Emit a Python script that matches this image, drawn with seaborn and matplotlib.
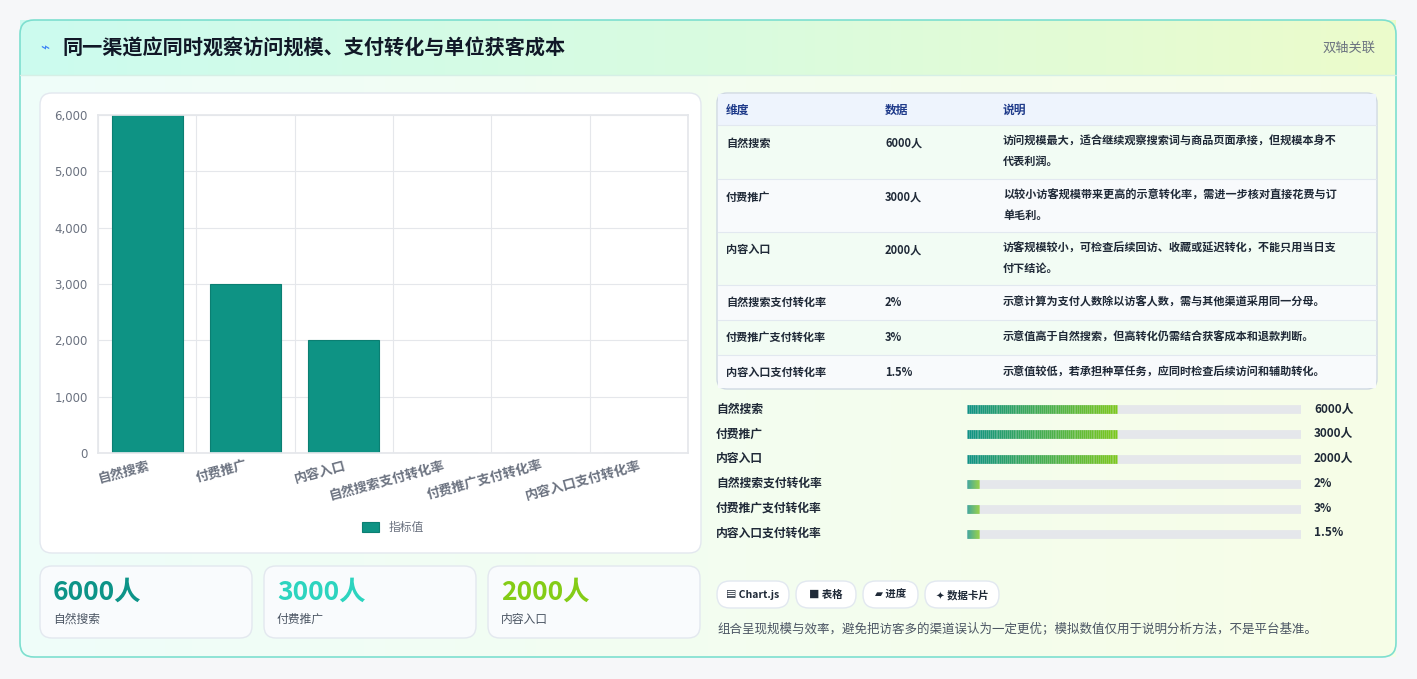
import numpy as np
import pandas as pd
import matplotlib
matplotlib.use("Agg")
import matplotlib.pyplot as plt
import seaborn as sns
from matplotlib.patches import FancyBboxPatch, Rectangle
from matplotlib.colors import LinearSegmentedColormap
from matplotlib.collections import LineCollection

# ── Data ──────────────────────────────────────────────────────────────────────
categories = ["自然搜索", "付费推广", "内容入口", "自然搜索支付转化率", "付费推广支付转化率", "内容入口支付转化率"]
values = [6000, 3000, 2000, 2, 3, 1.5]
value_labels = ["6000人", "3000人", "2000人", "2%", "3%", "1.5%"]
progress_pct = [45, 45, 45, 3.5, 3.5, 3.5]
notes = [
    "访问规模最大，适合继续观察搜索词与商品页面承接，但规模本身不\n代表利润。",
    "以较小访客规模带来更高的示意转化率，需进一步核对直接花费与订\n单毛利。",
    "访客规模较小，可检查后续回访、收藏或延迟转化，不能只用当日支\n付下结论。",
    "示意计算为支付人数除以访客人数，需与其他渠道采用同一分母。",
    "示意值高于自然搜索，但高转化仍需结合获客成本和退款判断。",
    "示意值较低，若承担种草任务，应同时检查后续访问和辅助转化。",
]
kpi_values = ["6000人", "3000人", "2000人"]
kpi_labels = ["自然搜索", "付费推广", "内容入口"]
kpi_colors = ["#0d9488", "#2dd4bf", "#84cc16"]
chips = ["▤ Chart.js", "■ 表格", "▰ 进度", "✦ 数据卡片"]

W, H = 1417, 679
sns.set_theme(style="whitegrid")
plt.rcParams["font.family"] = ["Noto Sans CJK SC", "DejaVu Sans"]

fig = plt.figure(figsize=(W / 100, H / 100), dpi=100)
fig.patch.set_facecolor("#f6f7f9")


def fx(x):
    return x / W


def fy(y):
    return 1 - y / H


def axes_px(x0, y0, x1, y1, **kw):
    return fig.add_axes([fx(x0), fy(y1), fx(x1) - fx(x0), fy(y0) - fy(y1)], **kw)


# ── Background card ───────────────────────────────────────────────────────────
bg = axes_px(0, 0, W, H)
bg.set_xlim(0, W); bg.set_ylim(H, 0); bg.axis("off")
grad = LinearSegmentedColormap.from_list("g", ["#effdfa", "#f7fee7"])
bg.imshow(np.linspace(0, 1, 256)[None, :], cmap=grad, aspect="auto",
          extent=(20, 1396, 657, 20), zorder=0)
hdr = LinearSegmentedColormap.from_list("h", ["#ccfbef", "#d9fbe0", "#ecfccb"])
bg.imshow(np.linspace(0, 1, 256)[None, :], cmap=hdr, aspect="auto",
          extent=(20, 1396, 75, 20), zorder=0)
bg.add_patch(FancyBboxPatch((20, 20), 1376, 637, boxstyle="round,pad=0,rounding_size=14",
                            fill=False, ec="#7ddfcf", lw=1.2, zorder=2))
bg.plot([20, 1396], [75, 75], color="#d6efe6", lw=1)
bg.text(40, 48, "⌁", color="#3b82f6", fontsize=11, va="center", family=["DejaVu Sans"])
bg.text(62, 48, "同一渠道应同时观察访问规模、支付转化与单位获客成本", fontsize=14.5,
        fontweight="bold", color="#111827", va="center")
bg.text(1376, 48, "双轴关联", fontsize=9.5, color="#6b7280", ha="right", va="center")


def card(x, y, w, h, ec="#e3e8ef", fc="white", r=12):
    bg.add_patch(FancyBboxPatch((x, y), w, h, boxstyle=f"round,pad=0,rounding_size={r}",
                                fc=fc, ec=ec, lw=1, zorder=1))


card(40, 93, 661, 460)
for i, x in enumerate([40, 264, 488]):
    card(x, 566, 212, 72, fc="#f9fbfd")
    bg.text(x + 13, 592, kpi_values[i], fontsize=19, fontweight="bold", color=kpi_colors[i], va="center")
    bg.text(x + 13, 619, kpi_labels[i], fontsize=8.5, color="#4b5563", va="center")

# ── Bar chart ─────────────────────────────────────────────────────────────────
ax = axes_px(98, 115, 688, 453)
df = pd.DataFrame({"类别": categories, "指标值": values})
sns.barplot(data=df, x="类别", y="指标值", color="#0e9384", saturation=1, width=0.72, ax=ax,
            edgecolor="#0b7f72", linewidth=0.8, label="指标值")
ax.set_facecolor("white")
ax.set_ylim(0, 6000)
ax.set_yticks(range(0, 6001, 1000))
ax.set_yticklabels([f"{v:,}" for v in range(0, 6001, 1000)], fontsize=8.5, color="#6b7280",
                   family=["DejaVu Sans"])
ax.set_xticks(range(len(categories)))
ax.set_xticklabels(categories, rotation=15, ha="right", fontsize=9.5, color="#6b7280",
                   fontweight="bold", rotation_mode="anchor")
ax.set_xlabel(""); ax.set_ylabel("")
ax.set_xlim(-0.5, 5.5)
ax.set_xticks(np.arange(-0.5, 5.6, 1), minor=True)
ax.grid(False)
ax.grid(True, axis="y", color="#e5e7eb", lw=0.8)
ax.grid(True, axis="x", which="minor", color="#e5e7eb", lw=0.8)
ax.tick_params(axis="x", which="both", length=0, pad=4)
ax.tick_params(axis="y", length=4, color="#e5e7eb")
for s in ax.spines.values():
    s.set_color("#e5e7eb")
ax.legend(loc="upper center", bbox_to_anchor=(0.5, -0.17), frameon=False, fontsize=8.5,
          labelcolor="#6b7280", handlelength=1.4, handleheight=0.9)

# ── Table ─────────────────────────────────────────────────────────────────────
card(717, 93, 660, 296, ec="#cfd8e3", fc="#f8fafc", r=10)
bg.add_patch(Rectangle((718, 94), 658, 31, fc="#eef4fd", ec="none", zorder=1))
bg.text(726, 110, "维度", fontsize=8.5, fontweight="bold", color="#1e3a8a", va="center")
bg.text(885, 110, "数据", fontsize=8.5, fontweight="bold", color="#1e3a8a", va="center")
bg.text(1003, 110, "说明", fontsize=8.5, fontweight="bold", color="#1e3a8a", va="center")
row_edges = [125, 179, 232, 285, 320, 355, 389]
for i in range(6):
    y0, y1 = row_edges[i], row_edges[i + 1]
    fc = "#f2fcf4" if i % 2 == 0 else "#f8fafc"
    bg.add_patch(Rectangle((718, y0), 658, y1 - y0 - (1 if i == 5 else 0), fc=fc, ec="none", zorder=1))
    bg.plot([718, 1376], [y0, y0], color="#e2e8f0", lw=0.8, zorder=2)
    yc = (y0 + y1) / 2
    two = "\n" in notes[i]
    ytxt = y0 + 18 if two else yc
    bg.text(726, ytxt, categories[i], fontsize=8, fontweight="bold", color="#1f2937", va="center", zorder=3)
    bg.text(885, ytxt, value_labels[i], fontsize=8, fontweight="bold", color="#1f2937", va="center", zorder=3)
    bg.text(1003, y0 + 10 if two else yc, notes[i], fontsize=8, fontweight="bold", color="#1f2937",
            va="top" if two else "center", linespacing=1.7, zorder=3)

# ── Progress bars ─────────────────────────────────────────────────────────────
pax = axes_px(967, 397, 1301, 546)
pax.set_xlim(0, 100); pax.set_ylim(len(categories) - 0.5, -0.5); pax.axis("off")
pgrad = LinearSegmentedColormap.from_list("p", ["#0e9384", "#7cc91d"])
LW = 6.3
for i, p in enumerate(progress_pct):
    pax.plot([0, 100], [i, i], color="#e5e7eb", lw=LW, solid_capstyle="round", zorder=1)
    xs = np.linspace(0, p, 80)
    segs = [[(xs[k], i), (xs[k + 1], i)] for k in range(len(xs) - 1)]
    lc = LineCollection(segs, colors=pgrad(np.linspace(0, 1, len(segs))), lw=LW, capstyle="butt", zorder=3)
    pax.add_collection(lc)
    pax.plot([0, 0.01], [i, i], color=pgrad(0.0), lw=LW, solid_capstyle="round", zorder=2)
    pax.plot([p - 0.01, p], [i, i], color=pgrad(1.0), lw=LW, solid_capstyle="round", zorder=2)
    bg.text(716, 409 + i * 24.8, categories[i], fontsize=8.5, fontweight="bold", color="#1f2937", va="center")
    bg.text(1314, 409 + i * 24.8, value_labels[i], fontsize=8.5, fontweight="bold", color="#1f2937", va="center")

# ── Chips & footnote ──────────────────────────────────────────────────────────
x = 717
for c, w in zip(chips, [72, 60, 55, 74]):
    card(x, 581, w, 27, ec="#e2e8f0", fc="white", r=13)
    bg.text(x + w / 2, 595, c, fontsize=7.5, fontweight="bold", color="#1f2937", ha="center", va="center",
            family=["Noto Sans CJK SC", "DejaVu Sans"])
    x += w + 7
bg.text(717, 629, "组合呈现规模与效率，避免把访客多的渠道误认为一定更优；模拟数值仅用于说明分析方法，不是平台基准。",
        fontsize=9, color="#4b5563", va="center")

fig.savefig("out.png", dpi=100, facecolor=fig.get_facecolor())
